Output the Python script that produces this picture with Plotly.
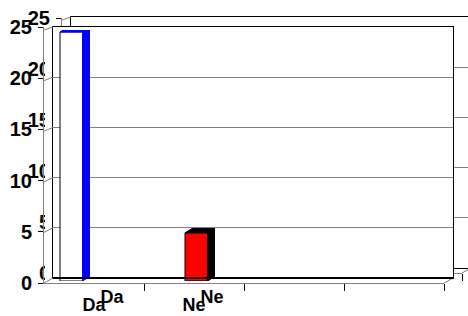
import plotly.graph_objects as go

# ---------------- data ----------------
categories = ["Da", "Ne"]
values = [24.8, 4.8]
y_tick_values = [0, 5, 10, 15, 20, 25]
y_tick_labels = ["0", "5", "10", "15", "20", "25"]
slot_count = 4

# ---------------- style ----------------
front_colors = ["#FFFFFF", "#FF0000"]
side_colors = ["#0000FF", "#000000"]
bar_offsets = [-0.34, -0.09]
bar_width = 0.225
depth_dx = 0.07
depth_dy = 0.42

W, H = 468, 316
FONT = "Liberation Sans, Arial, sans-serif"
GRID = "#808080"


def dom_x(a, b):
    return [max(0, a / W), min(1, b / W)]


def dom_y(top, bottom):
    return [max(0, 1 - bottom / H), min(1, 1 - top / H)]


fig = go.Figure()

XR = [-0.5, slot_count - 0.5]
YR = [0, 25]

fig.add_trace(go.Scatter(x=[], y=[], xaxis="x", yaxis="y", showlegend=False, hoverinfo="skip"))
fig.add_trace(go.Scatter(x=[], y=[], xaxis="x2", yaxis="y2", showlegend=False, hoverinfo="skip"))
fig.add_trace(go.Scatter(x=[0, 1, 1, 0, 0], y=[0, 0, 1, 1, 0], xaxis="x3", yaxis="y3",
                         mode="lines", fill="toself", fillcolor="white",
                         line=dict(width=0, color="white"), showlegend=False, hoverinfo="skip"))
fig.add_trace(go.Scatter(x=[], y=[], xaxis="x4", yaxis="y4", showlegend=False, hoverinfo="skip"))
fig.add_trace(go.Scatter(x=[], y=[], xaxis="x5", yaxis="y5", showlegend=False, hoverinfo="skip"))

xpos = list(range(len(categories)))
fig.add_trace(go.Bar(x=xpos, y=values, width=[bar_width] * len(values), offset=bar_offsets,
                     marker=dict(color=front_colors, line=dict(color="black", width=1)),
                     xaxis="x6", yaxis="y6", showlegend=False, hoverinfo="skip"))
for i, v in enumerate(values):
    xl = xpos[i] + bar_offsets[i]
    xr = xl + bar_width
    fig.add_trace(go.Scatter(x=[xr, xr, xr + depth_dx, xr + depth_dx, xr],
                             y=[0, v, v + depth_dy, depth_dy, 0],
                             mode="lines", fill="toself", fillcolor=side_colors[i],
                             line=dict(color=side_colors[i], width=1),
                             xaxis="x6", yaxis="y6", showlegend=False, hoverinfo="skip"))
    fig.add_trace(go.Scatter(x=[xl, xr, xr + depth_dx, xl + depth_dx, xl],
                             y=[v, v, v + depth_dy, v + depth_dy, v],
                             mode="lines", fill="toself", fillcolor=side_colors[i],
                             line=dict(color=side_colors[i], width=1),
                             xaxis="x6", yaxis="y6", showlegend=False, hoverinfo="skip"))

ytickfont = dict(family=FONT, size=20, color="black", weight="bold")
xtickfont = dict(family=FONT, size=18, color="black", weight="bold")


def front_x(domain, anchor, label_gap):
    return dict(domain=domain, anchor=anchor, range=XR, showgrid=False, zeroline=False,
                automargin=False,
                showline=True, linecolor=GRID, linewidth=1,
                tickmode="array", tickvals=xpos, ticktext=categories, tickfont=xtickfont,
                ticks="outside", ticklen=label_gap, tickcolor="rgba(0,0,0,0)",
                ticklabelstandoff=3,
                minor=dict(tickmode="array", tickvals=[k + 0.5 for k in range(slot_count)],
                           ticks="outside", ticklen=7, tickcolor="black", tickwidth=1),
                fixedrange=True)


def front_y(domain, anchor):
    return dict(domain=domain, anchor=anchor, range=YR, showgrid=False, zeroline=False,
                automargin=False,
                showline=True, linecolor=GRID, linewidth=1,
                tickmode="array", tickvals=y_tick_values, ticktext=y_tick_labels,
                tickfont=ytickfont, ticks="outside", ticklen=5, tickcolor="black",
                ticklabelstandoff=2, fixedrange=True)


def back_x(domain, anchor, mirror=True):
    return dict(domain=domain, anchor=anchor, range=[0, 1], showgrid=False, zeroline=False,
                automargin=False,
                showline=True, mirror=mirror, linecolor="black", linewidth=1,
                showticklabels=False, ticks="", fixedrange=True)


def back_y(domain, anchor, mirror=True):
    return dict(domain=domain, anchor=anchor, range=YR, showgrid=True, gridcolor=GRID,
                automargin=False,
                gridwidth=1, tickmode="array", tickvals=y_tick_values, zeroline=False,
                showline=True, mirror=mirror, linecolor="black", linewidth=1,
                showticklabels=False, ticks="", fixedrange=True)


def hidden_ax(domain, anchor, rng):
    return dict(domain=domain, anchor=anchor, range=rng, visible=False, fixedrange=True,
                automargin=False)


OX, OY = 18, -10  # offset of the background copy

layout = dict(
    template="none",
    width=W, height=H, autosize=False,
    margin=dict(l=0, r=0, t=0, b=0, pad=0, autoexpand=False),
    paper_bgcolor="white", plot_bgcolor="rgba(0,0,0,0)",
    showlegend=False,
    xaxis=back_x(dom_x(53 + OX, 453 + OX), "y"),
    yaxis=back_y(dom_y(27 + OY, 278 + OY), "x", mirror=False),
    xaxis2=front_x(dom_x(44 + OX, 444 + OX), "y2", 4),
    yaxis2=front_y(dom_y(28 + OY, 283 + OY), "x2"),
    xaxis3=hidden_ax(dom_x(45, 453), "y3", [0, 1]),
    yaxis3=hidden_ax(dom_y(27, 286), "x3", [0, 1]),
    xaxis4=back_x(dom_x(53, 453), "y4"),
    yaxis4=back_y(dom_y(27, 278), "x4"),
    xaxis5=front_x(dom_x(44, 444), "y5", 2),
    yaxis5=front_y(dom_y(27, 283), "x5"),
    xaxis6=hidden_ax(dom_x(44, 444), "y6", XR),
    yaxis6=hidden_ax(dom_y(30, 281), "x6", YR),
)

shapes = []


def seg(x0, y0, x1, y1, color=GRID, w=1):
    shapes.append(dict(type="line", xref="paper", yref="paper",
                       x0=x0 / W, y0=1 - y0 / H, x1=x1 / W, y1=1 - y1 / H,
                       line=dict(color=color, width=w), layer="above"))


for v in y_tick_values:
    yf = 283 - v * (283 - 30) / 25
    yb = 278 - v * (278 - 27) / 25
    seg(44, yf, 53, yb)
seg(444, 283, 453, 278)
seg(44 + OX, 30 + OY, 53 + OX, 27 + OY)
seg(444 + OX, 283 + OY, 453 + OX, 278 + OY)
# thicker floor edge of the back wall
seg(53, 278, 453, 278, color="black", w=2)

layout["shapes"] = shapes
fig.update_layout(**layout)
fig.write_html("out.html", config={"displayModeBar": False},
               post_script="document.body.style.margin='0';document.body.style.overflow='hidden';")
